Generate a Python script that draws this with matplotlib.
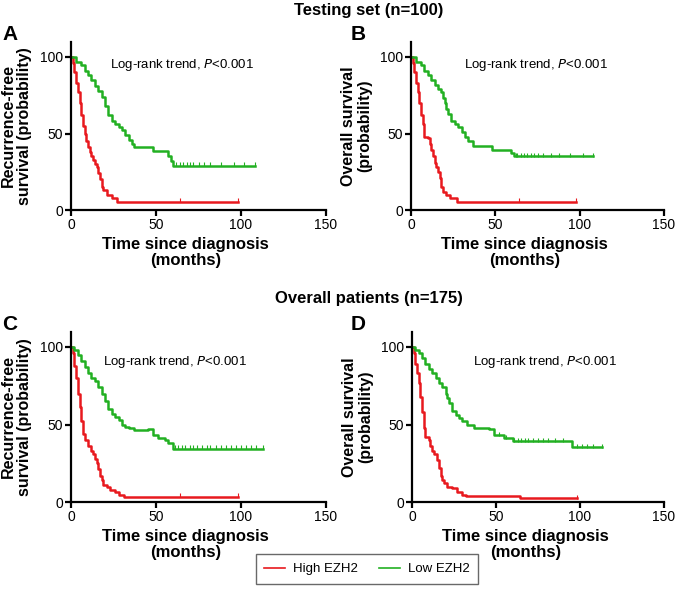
import matplotlib.pyplot as plt
import numpy as np

plt.rcParams['font.family'] = ['Liberation Sans', 'DejaVu Sans']

RED = '#e8191e'
GREEN = '#22b022'

# ---- panel A: testing set, recurrence-free survival
a_hi_t = [0, 1, 2, 3, 4, 5, 6, 7, 8, 9, 10, 11, 12, 13, 14, 15, 16, 17, 18, 19, 21, 24, 27]
a_hi_s = [100, 96, 90, 83, 77, 70, 62, 55, 50, 45, 41, 38, 35, 33, 30, 28, 24, 20, 15, 13, 10, 8, 5.5]
a_hi_end = 98
a_hi_cens = [64, 98]
a_lo_t = [0, 3, 6, 8, 10, 12, 14, 16, 18, 20, 22, 24, 26, 28, 30, 32, 34, 36, 37, 48, 57, 59, 60]
a_lo_s = [100, 97, 95, 91, 88, 85, 81, 78, 74, 68, 62, 58, 56, 54, 52, 49, 46, 43, 41.5, 38.5, 35, 32, 29]
a_lo_end = 108
a_lo_cens = [62, 64, 66, 68, 70, 72, 75, 78, 82, 88, 96, 102, 108]

# ---- panel B: testing set, overall survival
b_hi_t = [0, 1, 2, 3, 4, 5, 6, 7, 8, 10, 11, 12, 13, 14, 15, 16, 17, 18, 19, 21, 23, 27]
b_hi_s = [100, 96, 90, 83, 77, 70, 62, 56, 48, 47, 43, 39, 35, 31, 28, 25, 21, 15, 12, 10, 8, 5.5]
b_hi_end = 98
b_hi_cens = [64, 98]
b_lo_t = [0, 3, 6, 8, 10, 12, 14, 16, 18, 19, 20, 21, 22, 24, 26, 28, 30, 32, 34, 37, 48, 59, 61]
b_lo_s = [100, 97, 95, 91, 88, 85, 82, 79, 77, 73, 70, 66, 63, 58, 56, 54, 51, 48, 45, 42, 39.5, 37.5, 35]
b_lo_end = 108
b_lo_cens = [62, 63, 65, 67, 69, 71, 73, 75, 78, 83, 88, 94, 102, 108]

# ---- panel C: overall patients, recurrence-free survival
c_hi_t = [0, 1, 2, 3, 4, 5, 6, 7, 8, 10, 12, 13, 14, 15, 16, 17, 18, 19, 21, 23, 26, 28, 31]
c_hi_s = [100, 96, 88, 80, 70, 61, 52, 44, 40, 36, 33, 31, 28, 25, 21, 17, 14, 11, 9.5, 8, 6.5, 4.5, 3.4]
c_hi_end = 98
c_hi_cens = [64, 98]
c_lo_t = [0, 2, 4, 6, 8, 10, 12, 14, 16, 18, 20, 22, 24, 26, 28, 30, 32, 34, 37, 45, 48, 51, 55, 57, 60]
c_lo_s = [100, 98, 95, 91, 87, 83, 80, 78, 74, 70, 65, 60, 57, 55, 53, 50, 48.5, 47.5, 46.5, 47, 43, 41, 40, 38, 34.5]
c_lo_end = 113
c_lo_cens = [61, 63, 65, 67, 70, 72, 74, 77, 80, 82, 85, 88, 91, 94, 97, 100, 103, 106, 109, 113]

# ---- panel D: overall patients, overall survival
d_hi_t = [0, 1, 2, 3, 4, 5, 6, 7, 8, 10, 11, 12, 13, 15, 16, 17, 18, 19, 21, 24, 27, 30, 32, 64]
d_hi_s = [100, 96, 89, 83, 77, 68, 58, 48, 42, 40, 36, 33, 31, 27, 22, 17, 14, 12, 10, 9, 6.7, 4.5, 3.9, 2.4]
d_hi_end = 98
d_hi_cens = [98]
d_lo_t = [0, 2, 4, 6, 8, 10, 12, 14, 16, 18, 20, 21, 22, 24, 26, 28, 30, 33, 37, 46, 49, 55, 60, 95.5]
d_lo_s = [100, 98, 96, 93, 89, 86, 83, 80, 77, 74, 70, 67, 64, 59, 56, 54, 52, 50, 47.5, 47, 43, 41, 39.4, 35.3]
d_lo_end = 113
d_lo_cens = [52, 56, 61, 63, 65, 67, 69, 72, 75, 78, 81, 85, 90, 98, 101, 104, 108, 113]

panels = [
    ('A', 'Recurrence-free\nsurvival (probability)',
     (a_hi_t, a_hi_s, a_hi_end, a_hi_cens), (a_lo_t, a_lo_s, a_lo_end, a_lo_cens), (23, 95)),
    ('B', 'Overall survival\n(probability)',
     (b_hi_t, b_hi_s, b_hi_end, b_hi_cens), (b_lo_t, b_lo_s, b_lo_end, b_lo_cens), (31.5, 95)),
    ('C', 'Recurrence-free\nsurvival (probability)',
     (c_hi_t, c_hi_s, c_hi_end, c_hi_cens), (c_lo_t, c_lo_s, c_lo_end, c_lo_cens), (19, 90)),
    ('D', 'Overall survival\n(probability)',
     (d_hi_t, d_hi_s, d_hi_end, d_hi_cens), (d_lo_t, d_lo_s, d_lo_end, d_lo_cens), (36.5, 90)),
]

W, H = 677, 594
# axes boxes in pixels: left, right, y0 pixel, y110 pixel, letter x
boxes = [(71, 326, 210, 41.7, 2), (411, 664, 210, 41.7, 351),
         (71, 326, 502, 331.5, 2), (412, 664, 502, 331.5, 351)]


def drawCurve(ax, curve, color):
    t, s, end, cens = curve
    x = list(t) + [end]
    y = list(s) + [s[-1]]
    line, = ax.step(x, y, where='post', color=color, linewidth=1.8, clip_on=False)
    # censor marks sit on the curve
    idx = np.searchsorted(np.array(t), np.array(cens), side='right') - 1
    ax.plot(cens, np.array(s)[idx] + 0.8, '|', color=color, markersize=3.2, mew=0.8, clip_on=False)
    return line


fig = plt.figure(figsize=(W / 100, H / 100), dpi=100)

handles = []
for (letter, ylab, hi, lo, txt), (l, r, yb, yt, lx) in zip(panels, boxes):
    ax = fig.add_axes([l / W, 1 - yb / H, (r - l) / W, (yb - yt) / H])
    h1 = drawCurve(ax, hi, RED)
    h2 = drawCurve(ax, lo, GREEN)
    handles = [h1, h2]

    ax.set_xlim(0, 150)
    ax.set_ylim(0, 110)
    ax.set_xticks([0, 50, 100, 150])
    ax.set_yticks([0, 50, 100])
    ax.spines['top'].set_visible(False)
    ax.spines['right'].set_visible(False)
    ax.spines['left'].set_linewidth(1.6)
    ax.spines['bottom'].set_linewidth(1.6)
    ax.spines['left'].set_bounds(0, 110)
    ax.tick_params(direction='out', length=4, width=1.6, labelsize=10, pad=1.5)

    ax.set_xlabel('Time since diagnosis\n(months)', fontsize=12, fontweight='bold',
                  linespacing=1.1)
    ax.xaxis.set_label_coords(0.45, -0.16, transform=ax.transAxes)
    ax.xaxis.label.set_va('top')
    ax.set_ylabel(ylab, fontsize=11.5, fontweight='bold', linespacing=1.1, labelpad=6)

    ax.text(txt[0], txt[1], 'Log-rank trend, $\\mathit{P}$<0.001', fontsize=9.5,
            va='center', ha='left')
    fig.text(lx / W, 1 - (yt - 7) / H, letter, fontsize=15, fontweight='bold',
             ha='left', va='center')

fig.text(369 / W, 1 - 10 / H, 'Testing set (n=100)', fontsize=12, fontweight='bold',
         ha='center', va='center')
fig.text(369 / W, 1 - 298 / H, 'Overall patients (n=175)', fontsize=12, fontweight='bold',
         ha='center', va='center')

leg = fig.legend(handles, ['High EZH2', 'Low EZH2'], loc='center',
                 bbox_to_anchor=(367 / W, 1 - 569 / H), ncol=2, fontsize=9.5,
                 frameon=True, fancybox=False, handlelength=1.6, handletextpad=0.6,
                 columnspacing=1.6, borderpad=0.4, borderaxespad=0)
leg.get_frame().set_edgecolor('#444444')
leg.get_frame().set_linewidth(1.0)
leg._legend_box.sep = 0
for lh in leg.get_lines():
    lh.set_linewidth(1.2)
# pad the frame a little wider, as in the reference
leg.get_frame().set_boxstyle('square', pad=0.25)

fig.savefig('out.png', dpi=100)
